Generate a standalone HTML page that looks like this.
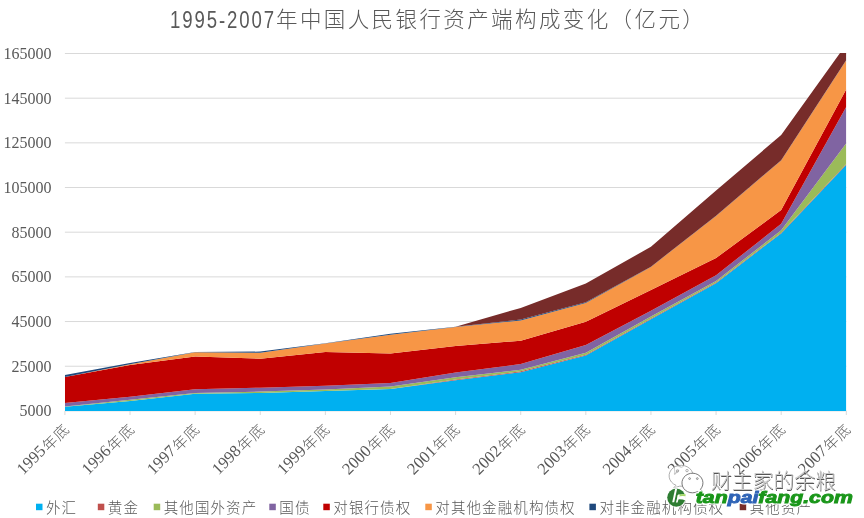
<!DOCTYPE html>
<html><head><meta charset="utf-8"><style>
html,body{margin:0;padding:0;background:#fff;}
body{width:864px;height:518px;overflow:hidden;position:relative;}
svg{position:absolute;left:0;top:0;display:block;will-change:transform;}
.title{font-family:"Noto Sans CJK SC",sans-serif;font-weight:300;font-size:21.5px;letter-spacing:2.4px;fill:#595959;}
.tnum{font-family:"Liberation Sans",sans-serif;font-weight:400;font-size:23.5px;}
.yl text{font-family:"Liberation Serif",serif;font-size:16px;fill:#595959;text-anchor:end;dominant-baseline:central;}
.xl text{font-family:"Liberation Serif","Noto Sans CJK SC",serif;font-size:16.6px;fill:#595959;text-anchor:end;dominant-baseline:central;}
.cj{font-family:"Noto Sans CJK SC",sans-serif;font-weight:300;font-size:14.8px;letter-spacing:1.0px;}
.lg text{font-family:"Noto Sans CJK SC",sans-serif;font-weight:300;font-size:14.5px;letter-spacing:1.1px;fill:#595959;dominant-baseline:central;}
</style></head><body>
<svg width="864" height="518" viewBox="0 0 864 518">
<rect width="864" height="518" fill="#fff"/>
<text class="title" x="170" y="28"><tspan class="tnum" textLength="106" lengthAdjust="spacingAndGlyphs">1995-2007</tspan><tspan dy="-1">年中国人民银行资产端构成变化（亿元）</tspan></text>
<g stroke="#D9D9D9" stroke-width="1"><line x1="64.9" y1="410.9" x2="846.3" y2="410.9"/><line x1="64.9" y1="366.22" x2="846.3" y2="366.22"/><line x1="64.9" y1="321.55" x2="846.3" y2="321.55"/><line x1="64.9" y1="276.88" x2="846.3" y2="276.88"/><line x1="64.9" y1="232.2" x2="846.3" y2="232.2"/><line x1="64.9" y1="187.52" x2="846.3" y2="187.52"/><line x1="64.9" y1="142.85" x2="846.3" y2="142.85"/><line x1="64.9" y1="98.18" x2="846.3" y2="98.18"/><line x1="64.9" y1="53.5" x2="846.3" y2="53.5"/></g>
<defs><clipPath id="pc"><rect x="64.9" y="53" width="781.4" height="358.9"/></clipPath></defs>
<g clip-path="url(#pc)"><polygon points="64.9,406.8 130.02,400.9 195.13,393.8 260.25,392.9 325.37,390.9 390.48,389 455.6,380.2 520.72,372.3 585.83,355.4 650.95,319.3 716.07,283.3 781.18,233.4 846.3,164.81 846.3,410.9 781.18,410.9 716.07,410.9 650.95,410.9 585.83,410.9 520.72,410.9 455.6,410.9 390.48,410.9 325.37,410.9 260.25,410.9 195.13,410.9 130.02,410.9 64.9,410.9" fill="#00B0F0"/><polygon points="64.9,406.8 130.02,400.9 195.13,393.8 260.25,392.9 325.37,390.9 390.48,389 455.6,379.4 520.72,371.3 585.83,354.7 650.95,318.6 716.07,282.6 781.18,232.7 846.3,164.06 846.3,164.81 781.18,233.4 716.07,283.3 650.95,319.3 585.83,355.4 520.72,372.3 455.6,380.2 390.48,389 325.37,390.9 260.25,392.9 195.13,393.8 130.02,400.9 64.9,406.8" fill="#C0504D"/><polygon points="64.9,406.6 130.02,399.8 195.13,393 260.25,391.6 325.37,389.6 390.48,386.4 455.6,377.3 520.72,369.7 585.83,352.7 650.95,316.5 716.07,281 781.18,230.3 846.3,143.25 846.3,164.06 781.18,232.7 716.07,282.6 650.95,318.6 585.83,354.7 520.72,371.3 455.6,379.4 390.48,389 325.37,390.9 260.25,392.9 195.13,393.8 130.02,400.9 64.9,406.8" fill="#9BBB59"/><polygon points="64.9,402.9 130.02,396.7 195.13,389.3 260.25,387.7 325.37,385.7 390.48,382.9 455.6,372.5 520.72,364.1 585.83,345.1 650.95,310.8 716.07,275.3 781.18,223.8 846.3,106.8 846.3,143.25 781.18,230.3 716.07,281 650.95,316.5 585.83,352.7 520.72,369.7 455.6,377.3 390.48,386.4 325.37,389.6 260.25,391.6 195.13,393 130.02,399.8 64.9,406.6" fill="#8064A2"/><polygon points="64.9,377 130.02,364.9 195.13,356.6 260.25,358.7 325.37,352 390.48,353.4 455.6,346 520.72,340.7 585.83,321.8 650.95,290 716.07,258 781.18,210 846.3,89.24 846.3,106.8 781.18,223.8 716.07,275.3 650.95,310.8 585.83,345.1 520.72,364.1 455.6,372.5 390.48,382.9 325.37,385.7 260.25,387.7 195.13,389.3 130.02,396.7 64.9,402.9" fill="#C00000"/><polygon points="64.9,377 130.02,364.2 195.13,352.2 260.25,352.7 325.37,343.5 390.48,334.8 455.6,327 520.72,320.4 585.83,303 650.95,266.9 716.07,215.9 781.18,160.4 846.3,60.26 846.3,89.24 781.18,210 716.07,258 650.95,290 585.83,321.8 520.72,340.7 455.6,346 390.48,353.4 325.37,352 260.25,358.7 195.13,356.6 130.02,364.9 64.9,377" fill="#F79646"/><polygon points="64.9,374.9 130.02,362.9 195.13,351.95 260.25,351.6 325.37,343.2 390.48,333.8 455.6,326.8 520.72,319.5 585.83,302.2 650.95,266.7 716.07,215.7 781.18,160.2 846.3,60.12 846.3,60.26 781.18,160.4 716.07,215.9 650.95,266.9 585.83,303 520.72,320.4 455.6,327 390.48,334.8 325.37,343.5 260.25,352.7 195.13,352.2 130.02,364.2 64.9,377" fill="#1F497D"/><polygon points="64.9,374.9 130.02,362.9 195.13,351.95 260.25,351.6 325.37,343.2 390.48,333.8 455.6,326.8 520.72,307.9 585.83,283.45 650.95,246.8 716.07,190.5 781.18,135 846.3,44.25 846.3,60.12 781.18,160.2 716.07,215.7 650.95,266.7 585.83,302.2 520.72,319.5 455.6,326.8 390.48,333.8 325.37,343.2 260.25,351.6 195.13,351.95 130.02,362.9 64.9,374.9" fill="#772C2A"/></g>
<g stroke="#D9D9D9" stroke-width="1"><line x1="64.9" y1="411" x2="64.9" y2="415"/><line x1="130.02" y1="411" x2="130.02" y2="415"/><line x1="195.13" y1="411" x2="195.13" y2="415"/><line x1="260.25" y1="411" x2="260.25" y2="415"/><line x1="325.37" y1="411" x2="325.37" y2="415"/><line x1="390.48" y1="411" x2="390.48" y2="415"/><line x1="455.6" y1="411" x2="455.6" y2="415"/><line x1="520.72" y1="411" x2="520.72" y2="415"/><line x1="585.83" y1="411" x2="585.83" y2="415"/><line x1="650.95" y1="411" x2="650.95" y2="415"/><line x1="716.07" y1="411" x2="716.07" y2="415"/><line x1="781.18" y1="411" x2="781.18" y2="415"/><line x1="846.3" y1="411" x2="846.3" y2="415"/></g>
<g class="yl"><text x="51.5" y="410.9">5000</text><text x="51.5" y="366.22">25000</text><text x="51.5" y="321.55">45000</text><text x="51.5" y="276.88">65000</text><text x="51.5" y="232.2">85000</text><text x="51.5" y="187.52">105000</text><text x="51.5" y="142.85">125000</text><text x="51.5" y="98.18">145000</text><text x="51.5" y="53.5">165000</text></g>
<g class="xl"><text transform="translate(65.8,425) rotate(-45)">1995<tspan class="cj" dx="1">年底</tspan></text><text transform="translate(130.92,425) rotate(-45)">1996<tspan class="cj" dx="1">年底</tspan></text><text transform="translate(196.03,425) rotate(-45)">1997<tspan class="cj" dx="1">年底</tspan></text><text transform="translate(261.15,425) rotate(-45)">1998<tspan class="cj" dx="1">年底</tspan></text><text transform="translate(326.27,425) rotate(-45)">1999<tspan class="cj" dx="1">年底</tspan></text><text transform="translate(391.38,425) rotate(-45)">2000<tspan class="cj" dx="1">年底</tspan></text><text transform="translate(456.5,425) rotate(-45)">2001<tspan class="cj" dx="1">年底</tspan></text><text transform="translate(521.62,425) rotate(-45)">2002<tspan class="cj" dx="1">年底</tspan></text><text transform="translate(586.73,425) rotate(-45)">2003<tspan class="cj" dx="1">年底</tspan></text><text transform="translate(651.85,425) rotate(-45)">2004<tspan class="cj" dx="1">年底</tspan></text><text transform="translate(716.97,425) rotate(-45)">2005<tspan class="cj" dx="1">年底</tspan></text><text transform="translate(782.08,425) rotate(-45)">2006<tspan class="cj" dx="1">年底</tspan></text><text transform="translate(847.2,425) rotate(-45)">2007<tspan class="cj" dx="1">年底</tspan></text></g>
<g class="lg"><rect x="36" y="503.7" width="6.5" height="6.5" fill="#00B0F0"/><text x="46" y="506.3">外汇</text><rect x="97.8" y="503.7" width="6.5" height="6.5" fill="#C0504D"/><text x="107.8" y="506.3">黄金</text><rect x="153.7" y="503.7" width="6.5" height="6.5" fill="#9BBB59"/><text x="163.7" y="506.3">其他国外资产</text><rect x="269.3" y="503.7" width="6.5" height="6.5" fill="#8064A2"/><text x="279.3" y="506.3">国债</text><rect x="323.3" y="503.7" width="6.5" height="6.5" fill="#C00000"/><text x="333.3" y="506.3">对银行债权</text><rect x="425.3" y="503.7" width="6.5" height="6.5" fill="#F79646"/><text x="435.3" y="506.3">对其他金融机构债权</text><rect x="589.4" y="503.7" width="6.5" height="6.5" fill="#1F497D"/><text x="599.4" y="506.3">对非金融机构债权</text><rect x="739.7" y="503.7" width="6.5" height="6.5" fill="#772C2A"/><text x="749.7" y="506.3">其他资产</text></g>
<g class="wm">
<g stroke-width="0.8">
<path d="M676,485.3 L673.5,488 L679.5,486.2 A12,10.5 0 1 0 676,485.3 Z" fill="rgba(255,255,255,0.65)" stroke="#999"/>
<circle cx="677.4" cy="471" r="1.2" fill="none" stroke="#999"/>
<circle cx="687" cy="470.6" r="1.2" fill="none" stroke="#999"/>
<path d="M700.5,489.3 L703,492 L697.5,491.6 A10.5,9.8 0 1 1 700.5,489.3 Z" fill="#fff" stroke="#555"/>
<circle cx="689.6" cy="478.6" r="0.9" fill="none" stroke="#777"/>
<circle cx="697.3" cy="478.6" r="0.9" fill="none" stroke="#777"/>
</g>
<g font-family="Noto Sans CJK SC, sans-serif" font-weight="300" font-size="21">
<text x="711.6" y="489.1" fill="#555" textLength="125" lengthAdjust="spacingAndGlyphs">财主家的余粮</text>
<text x="711" y="488.4" fill="#cacaca" textLength="125" lengthAdjust="spacingAndGlyphs">财主家的余粮</text>
</g>
<circle cx="676.3" cy="497.6" r="10.5" fill="#fff" opacity="0.6"/>
<circle cx="676.3" cy="497.6" r="9.1" fill="#2e7d32"/>
<path d="M677.6,495.6 Q682,493.6 686,494.2 L685.8,500.6 Q681.5,498.8 677.3,499.4 Z" fill="#fff"/>
<path d="M677.2,495.6 Q681.5,493.4 685.6,494.3 L685.5,496.2 Q681.5,495.4 677.2,497 Z" fill="#a6d96a"/>
<path d="M675.2,488.6 L677.2,488.6 L674.2,502.3 L672.2,502.3 Z" fill="#fff"/>
<path d="M678.1,494.6 L679.9,494.6 L677.6,502.6 L675.9,502.6 Z" fill="#fff"/>
<g font-family="Liberation Sans, sans-serif" font-weight="700" font-style="italic" font-size="16.6">
<text x="695.8" y="502.6" fill="#fff" stroke="#fff" stroke-width="3.2" stroke-linejoin="round" textLength="157" lengthAdjust="spacingAndGlyphs">tanpaifang.com</text>
<text x="695.8" y="502.6" fill="#1a961a" stroke="#1a961a" stroke-width="0.9" textLength="157" lengthAdjust="spacingAndGlyphs">tan<tspan fill="#2e63b6" stroke="#2e63b6">pai</tspan>fang.com</text>
</g>
</g>
</svg>
</body></html>
